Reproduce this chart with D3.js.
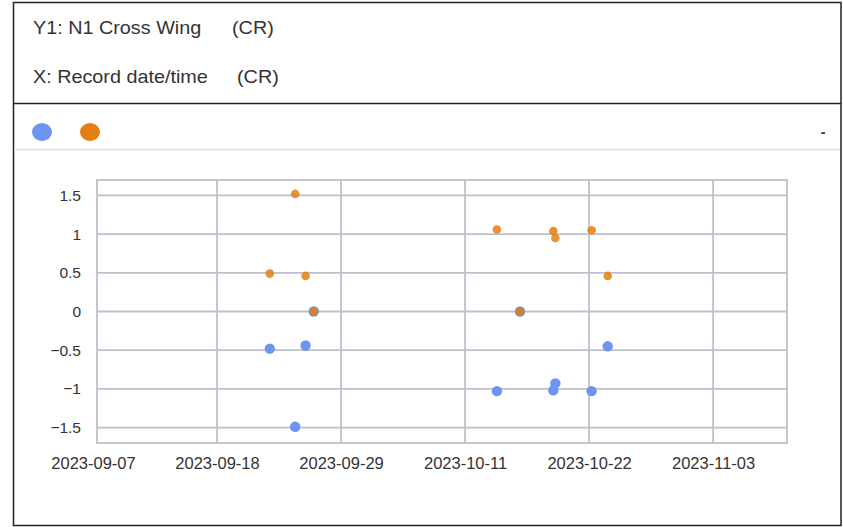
<!DOCTYPE html>
<html>
<head>
<meta charset="utf-8">
<script src="https://cdn.jsdelivr.net/npm/d3@7"></script>
<style>
  body { margin: 0; background: #fff; }
  svg text { font-family: "Liberation Sans", Arial, sans-serif; fill: #333; }
</style>
</head>
<body>
<div id="chart"></div>
<script>
// record times and the two series
const recordTimes = [
  "2023-09-23T06:00", "2023-09-25T14:00", "2023-09-26T13:00", "2023-09-27T07:00",
  "2023-10-14T03:00", "2023-10-16T06:00", "2023-10-19T07:30", "2023-10-19T12:00",
  "2023-10-22T20:00", "2023-10-24T07:30"
];
const blueValues = [-0.48, -1.49, -0.44, 0, -1.03, 0, -1.02, -0.93, -1.03, -0.45];
const orangeValues = [0.49, 1.52, 0.46, 0, 1.06, 0, 1.04, 0.95, 1.05, 0.46];

const xTicks = [
  "2023-09-07T00:00", "2023-09-18T09:36", "2023-09-29T19:12",
  "2023-10-11T04:48", "2023-10-22T14:24", "2023-11-03T00:00"
];
const xDomain = ["2023-09-07T08:50", "2023-11-09T19:00"];
const yTicks = [-1.5, -1, -0.5, 0, 0.5, 1, 1.5];
const yDomain = [-1.7, 1.7];

const headerLabels = ["Y1: N1 Cross Wing", "X: Record date/time"];
const headerUnits = ["(CR)", "(CR)"];

const width = 843, height = 527;
const margin = { top: 180, right: 56, bottom: 84, left: 97 };
const plotW = width - margin.left - margin.right;
const plotH = height - margin.top - margin.bottom;

const blue = "#6b95f0", orange = "#e67d12";
const gridColor = "#bec1cb";

const parse = d3.timeParse("%Y-%m-%dT%H:%M");

const svg = d3.select("#chart").append("svg")
  .attr("width", width)
  .attr("height", height);

// frame and header
svg.append("rect")
  .attr("x", 13.5).attr("y", 2.5)
  .attr("width", 827.5).attr("height", 523)
  .attr("fill", "none").attr("stroke", "#222").attr("stroke-width", 1.5);

svg.append("line")
  .attr("x1", 13).attr("x2", 841).attr("y1", 103.5).attr("y2", 103.5)
  .attr("stroke", "#222").attr("stroke-width", 1.5);
svg.append("line")
  .attr("x1", 14).attr("x2", 840).attr("y1", 149.5).attr("y2", 149.5)
  .attr("stroke", "#e0e0e0").attr("stroke-width", 1.5);

svg.selectAll(".hdr")
  .data(headerLabels)
  .enter()
  .append("text")
  .attr("class", "hdr")
  .attr("transform", (d, i) => `translate(33,${34 + i * 49}) scale(1.1,1)`)
  .style("font-size", "18px")
  .text(d => d);

svg.selectAll(".unit")
  .data(headerUnits)
  .enter()
  .append("text")
  .attr("class", "unit")
  .attr("transform", (d, i) => `translate(${232 + i * 5},${34 + i * 49}) scale(1.1,1)`)
  .style("font-size", "18px")
  .text(d => d);

// legend
svg.selectAll(".legdot")
  .data([blue, orange])
  .enter()
  .append("ellipse")
  .attr("cx", (d, i) => 42 + i * 48)
  .attr("cy", 132)
  .attr("rx", 10).attr("ry", 9)
  .attr("fill", d => d);

svg.append("text")
  .attr("x", 823).attr("y", 137)
  .attr("text-anchor", "middle")
  .style("font-size", "14px")
  .style("font-weight", "bold")
  .text("-");

// scales
const x = d3.scaleTime().domain(xDomain.map(parse)).range([0, plotW]);
const y = d3.scaleLinear().domain(yDomain).range([plotH, 0]);

const g = svg.append("g")
  .attr("transform", `translate(${margin.left},${margin.top})`);

// grid
g.append("g")
  .selectAll("line")
  .data(yTicks)
  .enter()
  .append("line")
  .attr("x1", 0).attr("x2", plotW)
  .attr("y1", d => y(d)).attr("y2", d => y(d))
  .attr("stroke", gridColor).attr("stroke-width", 1.8);

g.append("g")
  .selectAll("line")
  .data(xTicks.map(parse).filter(d => x(d) > 0))
  .enter()
  .append("line")
  .attr("x1", d => x(d)).attr("x2", d => x(d))
  .attr("y1", 0).attr("y2", plotH)
  .attr("stroke", gridColor).attr("stroke-width", 1.8);

g.append("rect")
  .attr("width", plotW).attr("height", plotH)
  .attr("fill", "none").attr("stroke", gridColor).attr("stroke-width", 1.8);

// axes
let xAxis = d3.axisBottom(x)
  .tickValues(xTicks.map(parse))
  .tickSize(0).tickPadding(14)
  .tickFormat(d3.timeFormat("%Y-%m-%d"));
g.append("g")
  .attr("transform", `translate(0,${plotH})`)
  .call(xAxis)
  .call(a => a.select(".domain").remove())
  .selectAll("text")
  .style("font-size", "16.5px")
  .style("fill", "#333");

let yAxis = d3.axisLeft(y)
  .tickValues(yTicks)
  .tickSize(0).tickPadding(16)
  .tickFormat(d3.format("~g"));
g.append("g")
  .call(yAxis)
  .call(a => a.select(".domain").remove())
  .selectAll("text")
  .style("font-size", "15.5px")
  .style("fill", "#333");

// points
const times = recordTimes.map(parse);

g.append("g")
  .selectAll("circle")
  .data(blueValues)
  .enter()
  .append("circle")
  .attr("cx", (d, i) => x(times[i]))
  .attr("cy", d => y(d))
  .attr("r", 5.2)
  .attr("fill", blue);

g.append("g")
  .selectAll("circle")
  .data(orangeValues)
  .enter()
  .append("circle")
  .attr("cx", (d, i) => x(times[i]))
  .attr("cy", d => y(d))
  .attr("r", 4.3)
  .attr("fill", orange)
  .attr("fill-opacity", 0.85);
</script>
</body>
</html>
